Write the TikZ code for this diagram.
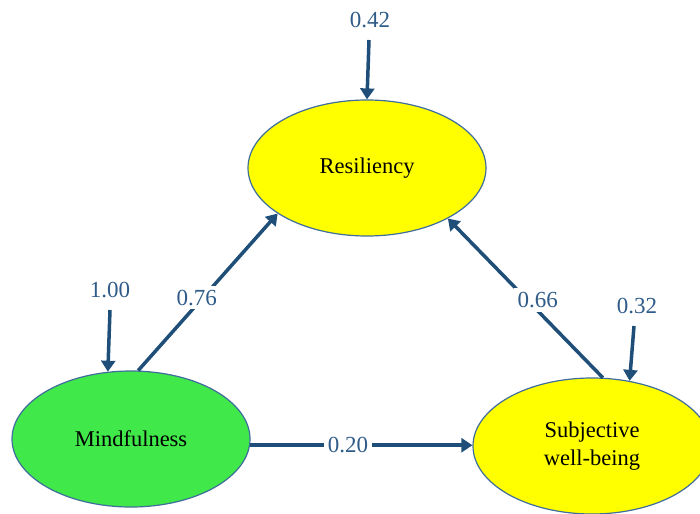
\documentclass[tikz,border=0pt]{standalone}
\usepackage{fontspec}
\setmainfont{Liberation Serif}
\usetikzlibrary{shapes.geometric,arrows.meta}
\definecolor{lineblue}{HTML}{1F4E79}
\definecolor{lblblue}{HTML}{2F5B88}
\definecolor{edgeblue}{HTML}{3F6E9C}
\definecolor{yel}{HTML}{FFFF00}
\definecolor{grn}{HTML}{40E84A}
\tikzset{
  latent/.style={ellipse, draw=edgeblue, line width=1.2pt, minimum width=238pt, minimum height=136pt, inner sep=0pt, align=center, font=\fontsize{22.5}{28}\selectfont, text=black},
  lbl/.style={font=\fontsize{23}{26}\selectfont, text=lblblue, inner sep=2pt},
  gaplbl/.style={lbl, fill=white, inner sep=4pt},
  arr/.style={draw=lineblue, line width=3.5pt, -{Triangle[length=11pt,width=14pt]}},
}
\begin{document}
\begin{tikzpicture}[x=1pt,y=-1pt]
\useasboundingbox (0,0) rectangle (700,513);
\clip (0,0) rectangle (700,513);
\node[latent, fill=yel] (R) at (367,168) {Resiliency};
\node[latent, fill=grn] (M) at (131,439) {Mindfulness};
\node[latent, fill=yel] (S) at (592,446) {Subjective\\well-being};
\node[lbl] (e1) at (370,20) {0.42};
\node[lbl] (e2) at (110,290) {1.00};
\node[lbl] (e3) at (637,306) {0.32};
\draw[arr] ([xshift=-1pt,yshift=-10pt]e1.south) -- (R.north);
\draw[arr] ([yshift=-10pt]e2.south) -- (M.109);
\draw[arr] ([xshift=-3pt,yshift=-10pt]e3.south) -- (S.60);
\draw[arr] (M.84) -- node[gaplbl, pos=0.42, yshift=7pt] {0.76} (R.207);
\draw[arr] (S.81) -- node[gaplbl, pos=0.42, yshift=11pt] {0.66} (R.328);
\draw[arr] (M.-3) -- node[gaplbl, pos=0.44] {0.20} (M.-3 -| S.west);
\end{tikzpicture}
\end{document}
